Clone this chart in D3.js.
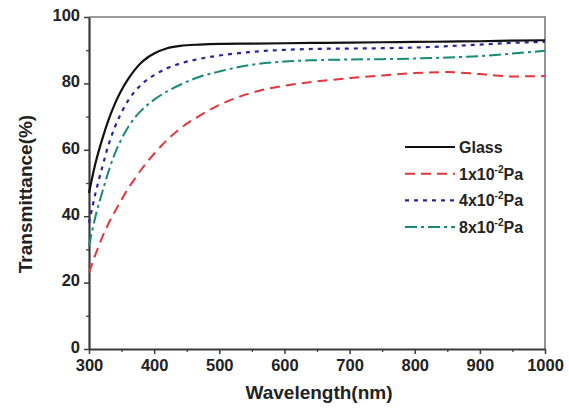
<!DOCTYPE html>
<html>
<head>
<meta charset="utf-8">
<script src="https://cdn.jsdelivr.net/npm/d3@7/dist/d3.min.js"></script>
<style>
  html, body { margin: 0; padding: 0; background: #ffffff; }
  svg { display: block; font-family: "Liberation Sans", Arial, sans-serif; }
</style>
</head>
<body>
<svg id="chart" width="569" height="408"></svg>
<script>
// ---- data ----
const wavelengths = [300, 310, 320, 330, 340, 350, 360, 370, 380, 390, 400, 420, 440, 470, 500, 550, 600, 650, 700, 750, 800, 850, 900, 950, 1000];
const glass = [47, 56, 63, 69, 74, 78, 81.3, 84, 86.2, 87.8, 89, 90.6, 91.3, 91.7, 91.9, 92, 92.1, 92.2, 92.3, 92.4, 92.5, 92.6, 92.7, 92.9, 93];
const pa1e2 = [23, 28.5, 33.5, 37.8, 41.5, 45, 48.3, 51.2, 54, 56.5, 58.8, 63, 66.4, 70.3, 73.5, 77.2, 79.3, 80.6, 81.6, 82.4, 83.1, 83.4, 82.8, 82.1, 82.2];
const pa4e2 = [38, 47, 54.5, 61.5, 67, 71.3, 74.8, 77.5, 79.6, 81.2, 82.5, 84.6, 86, 87.4, 88.4, 89.5, 90.1, 90.4, 90.5, 90.6, 90.8, 91.2, 91.7, 92.2, 92.5];
const pa8e2 = [31, 40, 47, 53.5, 59, 63.3, 66.8, 69.6, 71.8, 73.6, 75.1, 77.6, 79.6, 82, 83.6, 85.6, 86.6, 87, 87.2, 87.3, 87.5, 87.8, 88.2, 89, 89.8];
const seriesNames = ["Glass", "1x10", "4x10", "8x10"];
const xTicks = [300, 400, 500, 600, 700, 800, 900, 1000];
const yTicks = [0, 20, 40, 60, 80, 100];
const xTitle = "Wavelength(nm)";
const yTitle = "Transmittance(%)";

const series = [
  { name: seriesNames[0], values: glass, color: "#111111", dash: null, width: 2.2, sup: null },
  { name: seriesNames[1], values: pa1e2, color: "#e0363c", dash: "10,6", width: 2, sup: "-2" },
  { name: seriesNames[2], values: pa4e2, color: "#24279c", dash: "4,5", width: 2.2, sup: "-2" },
  { name: seriesNames[3], values: pa8e2, color: "#17887a", dash: "12,4,3,4", width: 2, sup: "-2" }
];

// ---- layout ----
const W = 569, H = 408;
const m = { left: 89, right: 24, top: 17, bottom: 59 };
const svg = d3.select("#chart");

const x = d3.scaleLinear().domain([300, 1000]).range([m.left, W - m.right]);
const y = d3.scaleLinear().domain([0, 100]).range([H - m.bottom, m.top]);

// frame (top & right)
svg.append("path")
  .attr("d", `M${x(300)},${y(100)}H${x(1000)}V${y(0)}`)
  .attr("fill", "none").attr("stroke", "#7a7a7a").attr("stroke-width", 1.6);

// minor ticks
const xMinor = d3.range(350, 1000, 100);
const yMinor = d3.range(10, 100, 20);
svg.append("g").attr("transform", `translate(0,${y(0)})`)
  .call(d3.axisBottom(x).tickValues(xMinor).tickSize(3).tickFormat(""))
  .call(g => g.select(".domain").remove())
  .selectAll("line").attr("stroke", "#444").attr("stroke-width", 1.3);
svg.append("g").attr("transform", `translate(${x(300)},0)`)
  .call(d3.axisLeft(y).tickValues(yMinor).tickSize(3).tickFormat(""))
  .call(g => g.select(".domain").remove())
  .selectAll("line").attr("stroke", "#444").attr("stroke-width", 1.3);

// major axes
const fmt = d3.format("d");
const xAxis = svg.append("g").attr("transform", `translate(0,${y(0)})`)
  .call(d3.axisBottom(x).tickValues(xTicks).tickFormat(fmt).tickSize(5).tickSizeOuter(0).tickPadding(4));
const yAxis = svg.append("g").attr("transform", `translate(${x(300)},0)`)
  .call(d3.axisLeft(y).tickValues(yTicks).tickFormat(fmt).tickSize(5).tickSizeOuter(0).tickPadding(4));

[xAxis, yAxis].forEach(g => {
  g.select(".domain").attr("stroke", "#3a3a3a").attr("stroke-width", 2.2);
  g.selectAll(".tick line").attr("stroke", "#3a3a3a").attr("stroke-width", 1.5);
  g.selectAll(".tick text").attr("fill", "#222").attr("font-size", 16.5).attr("font-weight", "bold")
    .attr("font-family", "'Liberation Sans', Arial, sans-serif");
});
xAxis.selectAll(".tick text").attr("dy", "0.78em");
yAxis.selectAll(".tick text").attr("dy", "0.2em");

// lines
const line = d3.line().x((d, i) => x(wavelengths[i])).y(d => y(d)).curve(d3.curveMonotoneX);
series.slice().reverse().forEach(s => {
  svg.append("path").datum(s.values)
    .attr("d", line)
    .attr("fill", "none")
    .attr("stroke", s.color)
    .attr("stroke-width", s.width)
    .attr("stroke-dasharray", s.dash);
});

// legend
const lg = svg.append("g");
const lx0 = 405, lx1 = 455, ly0 = 147, ldy = 26.7;
series.forEach((s, i) => {
  const yy = ly0 + i * ldy;
  lg.append("line").attr("x1", lx0).attr("x2", lx1).attr("y1", yy).attr("y2", yy)
    .attr("stroke", s.color).attr("stroke-width", s.width).attr("stroke-dasharray", s.dash);
  const t = lg.append("text").attr("x", lx1 + 4).attr("y", yy + 6)
    .attr("font-size", 16).attr("font-weight", "bold").attr("fill", "#222");
  t.append("tspan").text(s.name);
  if (s.sup) {
    t.append("tspan").attr("font-size", 10).attr("dy", -7).text(s.sup);
    t.append("tspan").attr("dy", 7).text("Pa");
  }
});

// axis titles
svg.append("text").attr("x", 319).attr("y", 399).attr("text-anchor", "middle")
  .attr("font-size", 19).attr("font-weight", "bold").attr("fill", "#222").text(xTitle);
svg.append("text").attr("transform", `translate(32,194) rotate(-90)`).attr("text-anchor", "middle")
  .attr("font-size", 19).attr("font-weight", "bold").attr("fill", "#222").text(yTitle);
</script>
</body>
</html>
